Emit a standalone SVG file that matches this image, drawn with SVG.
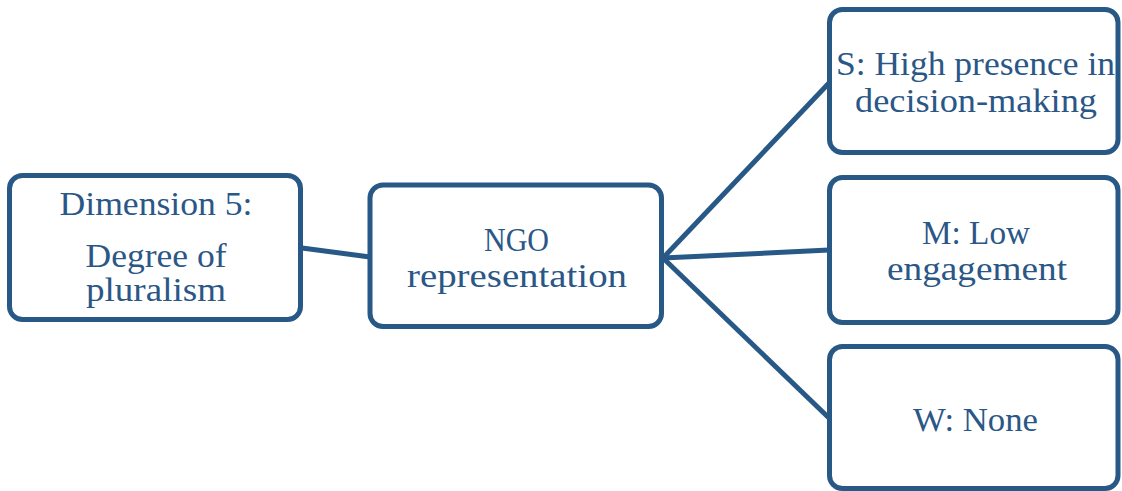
<svg xmlns="http://www.w3.org/2000/svg" width="1122" height="491" viewBox="0 0 1122 491">
<style>
.box{fill:#fff;stroke:#285885;stroke-width:5}
.c{stroke:#285885;stroke-width:5;fill:none}
text{font-family:"Liberation Serif","Times New Roman",serif;font-size:33px;fill:#2a5786;text-anchor:middle}
</style>
<rect width="1122" height="491" fill="#fff"/>
<g id="connectors">
<line class="c" x1="302" y1="248" x2="370" y2="257"/>
<line class="c" x1="663" y1="258" x2="829" y2="83"/>
<line class="c" x1="663" y1="258" x2="829" y2="250"/>
<line class="c" x1="663" y1="258" x2="829" y2="418"/>
</g>
<g id="dimension">
<rect class="box" x="9.5" y="175.5" width="291" height="144" rx="13"/>
<text x="156" y="215" textLength="193" lengthAdjust="spacingAndGlyphs">Dimension 5:</text>
<text x="156" y="266.5" textLength="141" lengthAdjust="spacingAndGlyphs">Degree of</text>
<text x="156" y="300.5" textLength="140" lengthAdjust="spacingAndGlyphs">pluralism</text>
</g>
<g id="ngo">
<rect class="box" x="370" y="185" width="291.5" height="141.5" rx="13"/>
<text x="516.5" y="251" textLength="65" lengthAdjust="spacingAndGlyphs">NGO</text>
<text x="517" y="287" textLength="220" lengthAdjust="spacingAndGlyphs">representation</text>
</g>
<g id="s">
<rect class="box" x="829.5" y="9.5" width="288.5" height="143" rx="13"/>
<text x="975.5" y="75" textLength="279" lengthAdjust="spacingAndGlyphs">S: High presence in</text>
<text x="976" y="111.5" textLength="242" lengthAdjust="spacingAndGlyphs">decision-making</text>
</g>
<g id="m">
<rect class="box" x="829.5" y="177.5" width="288.5" height="145" rx="13"/>
<text x="976" y="244" textLength="108" lengthAdjust="spacingAndGlyphs">M: Low</text>
<text x="977" y="280" textLength="180" lengthAdjust="spacingAndGlyphs">engagement</text>
</g>
<g id="w">
<rect class="box" x="829.5" y="346.5" width="288.5" height="142" rx="13"/>
<text x="975.5" y="431" textLength="125" lengthAdjust="spacingAndGlyphs">W: None</text>
</g>
</svg>
